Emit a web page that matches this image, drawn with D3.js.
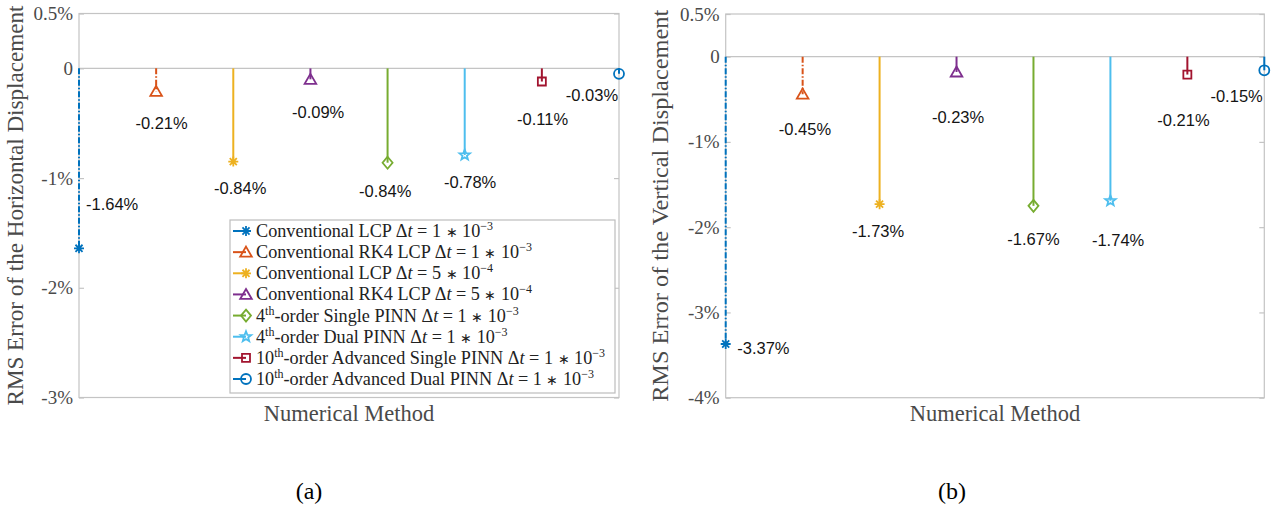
<!DOCTYPE html>
<html><head><meta charset="utf-8">
<script src="https://cdn.jsdelivr.net/npm/d3@7"></script>
<style>
html,body{margin:0;padding:0;background:#fff;}
svg{display:block;}
</style></head>
<body>
<svg id="chart" width="1275" height="509"></svg>
<script>
// ---------- data ----------
const methodOrder   = ["", "", "", "", "4", "4", "10", "10"];
const methodName    = ["Conventional LCP", "Conventional RK4 LCP", "Conventional LCP", "Conventional RK4 LCP",
                       "-order Single PINN", "-order Dual PINN", "-order Advanced Single PINN", "-order Advanced Dual PINN"];
const stepMantissa  = ["1", "1", "5", "5", "1", "1", "1", "1"];
const stepExponent  = ["\u22123", "\u22123", "\u22124", "\u22124", "\u22123", "\u22123", "\u22123", "\u22123"];

const horizontalError = [-1.64, -0.21, -0.85, -0.10, -0.86, -0.79, -0.12, -0.05];
const horizontalText  = ["-1.64%", "-0.21%", "-0.84%", "-0.09%", "-0.84%", "-0.78%", "-0.11%", "-0.03%"];
const horizontalTextX = [1.43, 2.07, 3.09, 4.10, 4.97, 6.07, 7.01, 7.65];
const horizontalTextY = [-1.236, -0.495, -1.09, -0.395, -1.115, -1.04, -0.46, -0.24];

const verticalError = [-3.37, -0.44, -1.73, -0.18, -1.75, -1.69, -0.21, -0.16];
const verticalText  = ["-3.37%", "-0.45%", "-1.73%", "-0.23%", "-1.67%", "-1.74%", "-0.21%", "-0.15%"];
const verticalTextX = [1.49, 2.03, 2.98, 4.02, 5.00, 6.10, 6.95, 7.64];
const verticalTextY = [-3.42, -0.85, -2.05, -0.71, -2.14, -2.15, -0.74, -0.46];

const horizontalTicks = [0.5, 0, -1, -2, -3];
const horizontalTickText = ["0.5%", "0", "-1%", "-2%", "-3%"];
const verticalTicks = [0.5, 0, -1, -2, -3, -4];
const verticalTickText = ["0.5%", "0", "-1%", "-2%", "-3%", "-4%"];

// ---------- styles ----------
const seriesColor  = ["#0072BD", "#D95319", "#EDB120", "#7E2F8E", "#77AC30", "#4DBEEE", "#A2142F", "#0072BD"];
const seriesDash   = ["6,2,1.5,2", "6,2,1.5,2", null, null, null, null, null, null];
const seriesMarker = ["asterisk", "triangle", "asterisk", "triangle", "diamond", "pentagram", "square", "circle"];

const svg = d3.select("#chart");
const AXIS_GRAY = "#c4c4c4";
const TEXT_GRAY = "#4a4a4a";
const SERIF = "'Liberation Serif', 'Times New Roman', serif";

function markerPath(type) {
  const p = d3.path();
  if (type === "asterisk") {
    const r = 5;
    for (let k = 0; k < 4; k++) {
      const a = k * Math.PI / 4;
      p.moveTo(-r * Math.cos(a), -r * Math.sin(a));
      p.lineTo(r * Math.cos(a), r * Math.sin(a));
    }
  } else if (type === "triangle") {
    p.moveTo(0, -5.5); p.lineTo(5.8, 4.5); p.lineTo(-5.8, 4.5); p.closePath();
  } else if (type === "diamond") {
    p.moveTo(0, -6); p.lineTo(5, 0); p.lineTo(0, 6); p.lineTo(-5, 0); p.closePath();
  } else if (type === "square") {
    p.rect(-4, -4, 8, 8);
  } else if (type === "circle") {
    p.arc(0, 0, 5, 0, 2 * Math.PI); p.closePath();
  } else if (type === "pentagram") {
    const R = 5.5, r = 2.3;
    for (let k = 0; k < 10; k++) {
      const a = -Math.PI / 2 + k * Math.PI / 5;
      const rr = k % 2 === 0 ? R : r;
      if (k === 0) p.moveTo(rr * Math.cos(a), rr * Math.sin(a));
      else p.lineTo(rr * Math.cos(a), rr * Math.sin(a));
    }
    p.closePath();
  }
  return p.toString();
}

function drawMarker(g, type, color, x, y) {
  g.append("path")
    .attr("d", markerPath(type))
    .attr("transform", `translate(${x},${y})`)
    .attr("fill", "none")
    .attr("stroke", color)
    .attr("stroke-width", 1.8)
    .attr("stroke-linejoin", "miter");
}

function panel(opts) {
  const g = svg.append("g");
  const x = d3.scaleLinear().domain([1, 8]).range([opts.left, opts.right]);
  const y = d3.scaleLinear().domain(opts.domain).range([opts.bottom, opts.top]);

  // box
  g.append("rect")
    .attr("x", opts.left).attr("y", opts.top)
    .attr("width", opts.right - opts.left).attr("height", opts.bottom - opts.top)
    .attr("fill", "none").attr("stroke", AXIS_GRAY).attr("stroke-width", 1.2);

  // y axis (left) using d3 axis
  const yAxis = d3.axisLeft(y).tickValues(opts.ticks).tickSize(-5)
    .tickFormat((d, i) => opts.tickText[i]);
  const ya = g.append("g").attr("transform", `translate(${opts.left},0)`).call(yAxis)
    .attr("font-family", SERIF).attr("font-size", 19);
  ya.select(".domain").remove();
  ya.selectAll(".tick line").attr("stroke", AXIS_GRAY).attr("stroke-width", 1.2);
  ya.selectAll(".tick text")
    .attr("x", -6)
    .attr("fill", TEXT_GRAY)
    .style("font-family", SERIF)
    .style("font-size", "19px");
  // right ticks (inward)
  const yAxisR = d3.axisRight(y).tickValues(opts.ticks).tickSize(-5).tickFormat("");
  const yr = g.append("g").attr("transform", `translate(${opts.right},0)`).call(yAxisR);
  yr.select(".domain").remove();
  yr.selectAll(".tick line").attr("stroke", AXIS_GRAY).attr("stroke-width", 1.2);

  // baseline at 0
  g.append("line")
    .attr("x1", opts.left).attr("x2", opts.right)
    .attr("y1", y(0)).attr("y2", y(0))
    .attr("stroke", AXIS_GRAY).attr("stroke-width", 1.2);

  // stems
  opts.values.forEach((v, i) => {
    g.append("line")
      .attr("x1", x(i + 1)).attr("x2", x(i + 1))
      .attr("y1", y(0)).attr("y2", y(v))
      .attr("stroke", seriesColor[i]).attr("stroke-width", 2)
      .attr("stroke-dasharray", seriesDash[i]);
  });
  opts.values.forEach((v, i) => {
    drawMarker(g, seriesMarker[i], seriesColor[i], x(i + 1), y(v));
  });

  // value labels
  opts.labels.forEach((t, i) => {
    g.append("text")
      .attr("x", x(opts.labelX[i])).attr("y", y(opts.labelY[i]))
      .attr("text-anchor", "middle").attr("dominant-baseline", "central")
      .attr("fill", "#141414")
      .style("font-family", "'Liberation Sans', Arial, Helvetica, sans-serif")
      .style("font-size", "16.5px")
      .text(t);
  });

  // x label
  g.append("text")
    .attr("x", (opts.left + opts.right) / 2).attr("y", 421)
    .attr("text-anchor", "middle").attr("fill", TEXT_GRAY)
    .style("font-family", SERIF)
    .style("font-size", "22.5px")
    .text("Numerical Method");

  // y label
  const cy = (opts.top + opts.bottom) / 2;
  g.append("text")
    .attr("transform", `translate(${opts.ylabelX},${cy}) rotate(-90)`)
    .attr("text-anchor", "middle").attr("fill", TEXT_GRAY)
    .attr("textLength", opts.ylabelLen).attr("lengthAdjust", "spacingAndGlyphs")
    .style("font-family", SERIF)
    .style("font-size", "22.5px")
    .text(opts.ylabel);

  // subtitle
  svg.append("text")
    .attr("x", (opts.left + opts.right) / 2 - 40 + opts.subDx).attr("y", 499)
    .attr("text-anchor", "middle").attr("fill", "#000")
    .style("font-family", SERIF)
    .style("font-size", "24px")
    .text(opts.sub);

  return { g, x, y };
}

panel({
  left: 79, right: 619, top: 13.5, bottom: 397.5, domain: [-3, 0.5],
  ticks: horizontalTicks, tickText: horizontalTickText,
  values: horizontalError, labels: horizontalText, labelX: horizontalTextX, labelY: horizontalTextY,
  ylabel: "RMS Error of the Horizontal Displacement", ylabelX: 23, ylabelLen: 400,
  sub: "(a)", subDx: 0
});
panel({
  left: 725.7, right: 1264.3, top: 14, bottom: 397.7, domain: [-4, 0.5],
  ticks: verticalTicks, tickText: verticalTickText,
  values: verticalError, labels: verticalText, labelX: verticalTextX, labelY: verticalTextY,
  ylabel: "RMS Error of the Vertical Displacement", ylabelX: 668, ylabelLen: 392,
  sub: "(b)", subDx: -3
});

// ---------- legend ----------
const lg = svg.append("g");
lg.append("rect").attr("x", 230).attr("y", 220).attr("width", 385).attr("height", 173)
  .attr("fill", "#fff").attr("stroke", "#bdbdbd").attr("stroke-width", 1.2);
const rowY = d3.scaleLinear().domain([0, 7]).range([231, 379]);
methodName.forEach((name, i) => {
  const yy = rowY(i);
  lg.append("line").attr("x1", 233).attr("x2", 246).attr("y1", yy).attr("y2", yy)
    .attr("stroke", seriesColor[i]).attr("stroke-width", 2);
  drawMarker(lg, seriesMarker[i], seriesColor[i], 246, yy);
  const t = lg.append("text").attr("x", 256).attr("y", yy + 6)
    .attr("fill", "#222")
    .style("font-family", SERIF)
    .style("font-size", "18.2px");
  if (methodOrder[i]) {
    t.append("tspan").text(methodOrder[i]);
    t.append("tspan").attr("dy", -7).style("font-size", "12px").text("th");
    t.append("tspan").attr("dy", 7).text(name + " ");
  } else {
    t.append("tspan").text(name + " ");
  }
  t.append("tspan").text("\u0394");
  t.append("tspan").style("font-style", "italic").text("t");
  t.append("tspan").text(" = " + stepMantissa[i] + " ");
  t.append("tspan").style("font-size", "14px").text("\u2217");
  t.append("tspan").text(" 10");
  t.append("tspan").attr("dy", -7).style("font-size", "12px").text(stepExponent[i]);
});
</script>
</body></html>
